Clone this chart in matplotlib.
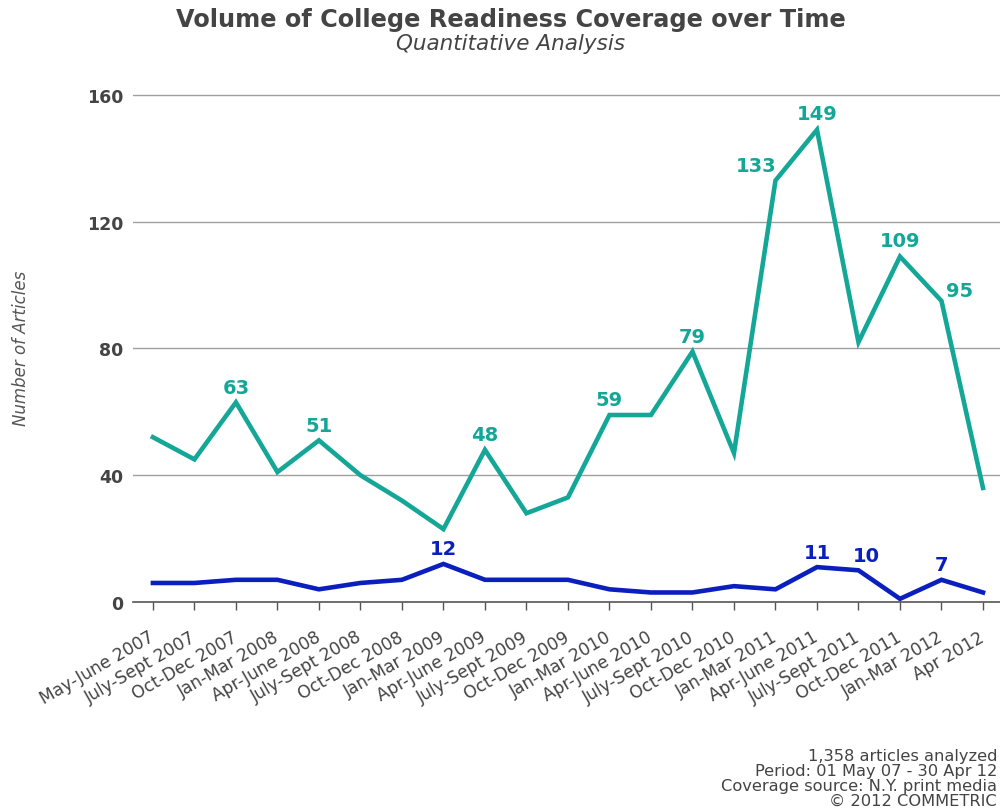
import matplotlib
matplotlib.use('Agg')
import matplotlib.pyplot as plt
import numpy as np

plt.rcParams['font.family'] = ['DejaVu Sans']

# quarters on the x axis
periods = [
    'May-June 2007', 'July-Sept 2007', 'Oct-Dec 2007', 'Jan-Mar 2008',
    'Apr-June 2008', 'July-Sept 2008', 'Oct-Dec 2008', 'Jan-Mar 2009',
    'Apr-June 2009', 'July-Sept 2009', 'Oct-Dec 2009', 'Jan-Mar 2010',
    'Apr-June 2010', 'July-Sept 2010', 'Oct-Dec 2010', 'Jan-Mar 2011',
    'Apr-June 2011', 'July-Sept 2011', 'Oct-Dec 2011', 'Jan-Mar 2012',
    'Apr 2012'
]
teal_vals = [52, 45, 63, 41, 51, 40, 32, 23, 48, 28, 33, 59, 59, 79, 47,
             133, 149, 82, 109, 95, 36]
blue_vals = [6, 6, 7, 7, 4, 6, 7, 12, 7, 7, 7, 4, 3, 3, 5, 4, 11, 10, 1, 7, 3]

# which points get a value label, and nudge (points) for the label
teal_labels = {2: (0, 4), 4: (0, 4), 8: (0, 4), 11: (0, 4), 13: (0, 4),
               15: (-14, 4), 16: (0, 5), 18: (0, 5), 19: (13, 1)}
blue_labels = {7: (0, 4), 16: (0, 4), 17: (6, 4), 19: (0, 4)}

yticks = [0, 40, 80, 120, 160]

teal = '#14a797'
blue = '#0b1fbf'
txt = '#444444'

fig = plt.figure(figsize=(10, 8.12), dpi=100)
ax = fig.add_axes([0.133, 0.2574, 0.867, 0.6264])

x = np.arange(len(periods))
ax.plot(x, teal_vals, color=teal, lw=3.3, solid_joinstyle='miter', zorder=3, clip_on=False)
ax.plot(x, blue_vals, color=blue, lw=3.3, solid_joinstyle='miter', zorder=3, clip_on=False)

for i, (dx, dy) in teal_labels.items():
    ax.annotate(str(teal_vals[i]), (x[i], teal_vals[i]), xytext=(dx, dy),
                textcoords='offset points', ha='center', va='bottom',
                color=teal, fontsize=14, fontweight='bold', zorder=4)
for i, (dx, dy) in blue_labels.items():
    ax.annotate(str(blue_vals[i]), (x[i], blue_vals[i]), xytext=(dx, dy),
                textcoords='offset points', ha='center', va='bottom',
                color=blue, fontsize=14, fontweight='bold', zorder=4)

ax.set_xlim(-0.48, 20.41)
ax.set_ylim(0, 160.5)
ax.set_yticks(yticks)
ax.set_yticklabels([str(v) for v in yticks], fontsize=12.5, fontweight='bold', color=txt)
ax.tick_params(axis='y', length=0, pad=7)
for v in yticks[1:]:
    ax.axhline(v, color='#a0a0a0', lw=1, zorder=1)

ax.set_xticks(x)
ax.set_xticklabels(periods, rotation=30, ha='right', va='center',
                   rotation_mode='anchor', fontsize=12.3, color=txt)
ax.tick_params(axis='x', direction='out', length=6, width=1, color='#555555', pad=18)

for s in ['top', 'right', 'left']:
    ax.spines[s].set_visible(False)
ax.spines['bottom'].set_color('#555555')
ax.spines['bottom'].set_linewidth(1.2)

ax.set_ylabel('Number of Articles', fontsize=12, fontstyle='italic', color='#555555', labelpad=41)

fig.text(0.511, 0.975, 'Volume of College Readiness Coverage over Time',
         ha='center', va='center', fontsize=17.3, fontweight='bold', color=txt)
fig.text(0.511, 0.946, 'Quantitative Analysis', ha='center', va='center',
         fontsize=15.5, fontstyle='italic', color=txt)

fig.text(0.997, 0.004, '1,358 articles analyzed\nPeriod: 01 May 07 - 30 Apr 12\n'
         'Coverage source: N.Y. print media\n\u00a9 2012 COMMETRIC',
         ha='right', va='bottom', fontsize=11.7, color=txt, linespacing=1.0)

fig.savefig('out.png', dpi=100, facecolor='white')
